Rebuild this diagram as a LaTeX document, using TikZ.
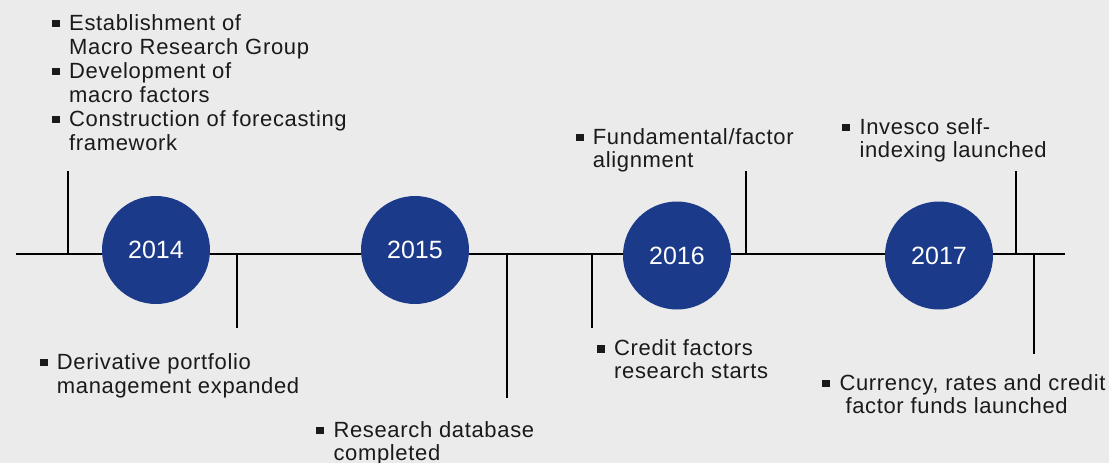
\documentclass[tikz,border=0pt]{standalone}
\usepackage{fontspec}
\setmainfont{Liberation Sans}[LetterSpace=3]
\newfontfamily\yearfont{Liberation Sans}
\definecolor{bg}{HTML}{EBEBEB}
\definecolor{navy}{HTML}{1B3A8A}
\definecolor{txt}{HTML}{1A1A1A}
\newcommand{\bul}{\llap{\raisebox{3pt}{\rule{7.8pt}{7.3pt}}\hspace{9.3pt}}}
\begin{document}
\begin{tikzpicture}[x=1pt,y=-1pt,
  year/.style={circle,fill=navy,minimum size=108pt,inner sep=0pt,text=white,font=\yearfont\fontsize{25}{28}\selectfont},
  item/.style={anchor=base west,align=left,inner sep=0pt,text=txt,font=\fontsize{22}{24}\selectfont},
  tick/.style={draw=black,line width=1.3pt},
  axis/.style={draw=black,line width=1.3pt}]
\fill[bg] (0,0) rectangle (1109,463);
\useasboundingbox (0,0) rectangle (1109,463);
% timeline
\coordinate (L) at (15.5,254);
\coordinate (R) at (1064.5,254);
\draw[axis] (L) -- (R);
% ticks
\coordinate (a1) at (68,254);   \coordinate (a2) at (68,171);
\coordinate (b1) at (237,254);  \coordinate (b2) at (237,328);
\coordinate (c1) at (507,254);  \coordinate (c2) at (507,398);
\coordinate (d1) at (592,254);  \coordinate (d2) at (592,328);
\coordinate (e1) at (746,254);  \coordinate (e2) at (746,171);
\coordinate (f1) at (1016,254); \coordinate (f2) at (1016,171);
\coordinate (g1) at (1034,254); \coordinate (g2) at (1034,354);
\draw[tick] (a1) -- (a2);
\draw[tick] (b1) -- (b2);
\draw[tick] (c1) -- (c2);
\draw[tick] (d1) -- (d2);
\draw[tick] (e1) -- (e2);
\draw[tick] (f1) -- (f2);
\draw[tick] (g1) -- (g2);
% year circles
\node[year] (y14) at (156,250) {2014};
\node[year] (y15) at (415,250) {2015};
\node[year] (y16) at (677,255.5) {2016};
\node[year] (y17) at (939,255.5) {2017};
% texts (anchored at the baseline of the last line)
\node[item,font=\fontsize{22}{24.1}\selectfont] (tA) at (69,150.5) {\bul Establishment of\\Macro Research Group\\\bul Development of\\macro factors\\\bul Construction of forecasting\\framework};
\node[item] (tB) at (56.7,393.3) {\bul Derivative portfolio\\management expanded};
\node[item,font=\fontsize{22}{23}\selectfont] (tC) at (333.3,460) {\bul Research database\\completed};
\node[item,font=\fontsize{22}{23.7}\selectfont] (tD) at (592.7,167.7) {\bul Fundamental/factor\\alignment};
\node[item,font=\fontsize{22}{22.7}\selectfont] (tE) at (614,378.3) {\bul Credit factors\\research starts};
\node[item,font=\fontsize{22}{23}\selectfont] (tF) at (859.3,157.3) {\bul Invesco self-\\indexing launched};
\node[item,font=\fontsize{22}{23}\selectfont] (tG) at (839.3,413) {\bul Currency, rates and credit\\\hspace*{6pt}factor funds launched};
\end{tikzpicture}
\end{document}
